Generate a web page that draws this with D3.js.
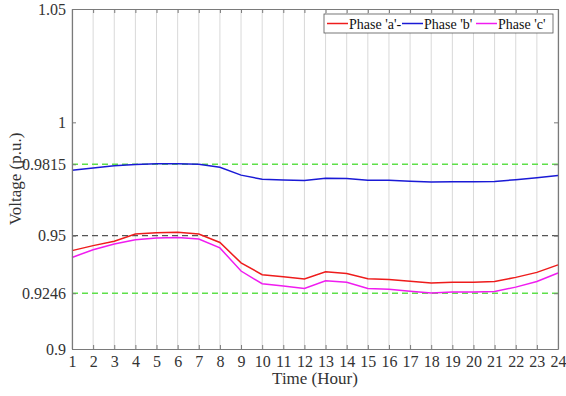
<!DOCTYPE html>
<html>
<head>
<meta charset="utf-8">
<script src="https://cdn.jsdelivr.net/npm/d3@7"></script>
<style>
  html, body { margin: 0; padding: 0; background: #fff; }
  svg { display: block; }
</style>
</head>
<body>
<svg id="chart" width="566" height="396"></svg>
<script>
// Hourly voltage profile per phase
const hours = d3.range(1, 25);
const phaseA = [0.9434, 0.9456, 0.9475, 0.9507, 0.9513, 0.9515, 0.9507, 0.9470, 0.9380,
  0.9328, 0.9319, 0.9309, 0.9341, 0.9333, 0.9310, 0.9307, 0.9299, 0.9291, 0.9295, 0.9294,
  0.9298, 0.9316, 0.9338, 0.9371];
const phaseB = [0.9789, 0.9799, 0.9808, 0.9814, 0.9817, 0.9817, 0.9815, 0.9802, 0.9767,
  0.9749, 0.9746, 0.9743, 0.9753, 0.9752, 0.9744, 0.9744, 0.9740, 0.9737, 0.9738, 0.9738,
  0.9739, 0.9747, 0.9755, 0.9765];
const phaseC = [0.9404, 0.9438, 0.9463, 0.9482, 0.9490, 0.9492, 0.9485, 0.9446, 0.9344,
  0.9288, 0.9278, 0.9267, 0.9301, 0.9294, 0.9267, 0.9264, 0.9255, 0.9247, 0.9251, 0.9251,
  0.9254, 0.9273, 0.9298, 0.9335];
const seriesNames = ["Phase 'a'-", "Phase 'b'", "Phase 'c'"];
const seriesColors = ["#ee1c1c", "#1a1ad6", "#f01cf0"];
const yTicks = [0.9, 0.9246, 0.95, 0.9815, 1, 1.05];
const limitLines = [
  { value: 0.9815, color: "#5ee04a" },
  { value: 0.95, color: "#555555" },
  { value: 0.9246, color: "#5ee04a" }
];

const FONT = "Liberation Serif";
const svg = d3.select("#chart").attr("font-family", FONT);
const margin = { left: 72, right: 8, top: 9, bottom: 47 };
const W = 566, H = 396;

const x = d3.scaleLinear().domain([1, 24]).range([margin.left, W - margin.right]);
const y = d3.scaleLinear().domain([0.9, 1.05]).range([H - margin.bottom, margin.top]);

// vertical grid
svg.append("g").selectAll("line").data(hours).join("line")
  .attr("x1", d => x(d)).attr("x2", d => x(d))
  .attr("y1", y(0.9)).attr("y2", y(1.05))
  .attr("stroke", "#d9d9d9").attr("stroke-width", 1);

// reference voltage limits
svg.append("g").selectAll("line").data(limitLines).join("line")
  .attr("x1", x(1)).attr("x2", x(24))
  .attr("y1", d => y(d.value)).attr("y2", d => y(d.value))
  .attr("stroke", d => d.color).attr("stroke-width", 1.3)
  .attr("stroke-dasharray", "6,4");

// phase curves
const line = d3.line().x((d, i) => x(hours[i])).y(d => y(d));
[phaseA, phaseB, phaseC].forEach((s, i) => {
  svg.append("path").datum(s)
    .attr("d", line)
    .attr("fill", "none")
    .attr("stroke", seriesColors[i])
    .attr("stroke-width", 1.5);
});

// axes (ticks point inward)
const axisColor = "#7a7a7a";
const xAxis = svg.append("g").attr("transform", `translate(0,${y(0.9)})`)
  .call(d3.axisBottom(x).tickValues(hours).tickFormat(d3.format("d")).tickSizeInner(-4).tickSizeOuter(0).tickPadding(7));
const xTop = svg.append("g").attr("transform", `translate(0,${y(1.05)})`)
  .call(d3.axisTop(x).tickValues(hours).tickFormat("").tickSizeInner(-4).tickSizeOuter(0));
const yAxis = svg.append("g").attr("transform", `translate(${x(1)},0)`)
  .call(d3.axisLeft(y).tickValues(yTicks).tickFormat(d => String(d)).tickSizeInner(-4).tickSizeOuter(0).tickPadding(6));
const yRight = svg.append("g").attr("transform", `translate(${x(24)},0)`)
  .call(d3.axisRight(y).tickValues(yTicks).tickFormat("").tickSizeInner(-4).tickSizeOuter(0));

[xAxis, xTop, yAxis, yRight].forEach(g => {
  g.attr("font-family", FONT).attr("font-size", 16);
  g.select(".domain").attr("stroke", axisColor).attr("stroke-width", 1.2);
  g.selectAll(".tick line").attr("stroke", axisColor);
  g.selectAll(".tick text").attr("font-family", FONT).attr("font-size", 16).attr("fill", "#333");
});

// axis titles
svg.append("text")
  .attr("x", (x(1) + x(24)) / 2).attr("y", 384)
  .attr("text-anchor", "middle").attr("font-size", 17)
  .attr("font-family", FONT).attr("fill", "#333")
  .text("Time (Hour)");
svg.append("text")
  .attr("transform", `translate(21,${y(0.975)}) rotate(-90)`)
  .attr("text-anchor", "middle").attr("font-size", 17)
  .attr("font-family", FONT).attr("fill", "#333")
  .text("Voltage (p.u.)");

// legend
const legend = svg.append("g").attr("transform", "translate(324,14)");
legend.append("rect").attr("width", 229).attr("height", 19)
  .attr("fill", "#fff").attr("stroke", "#555").attr("stroke-width", 0.8);
const legendX = [3, 78, 152];
seriesNames.forEach((name, i) => {
  const g = legend.append("g").attr("transform", `translate(${legendX[i]},0)`);
  g.append("line").attr("x1", 0).attr("x2", 21).attr("y1", 9.5).attr("y2", 9.5)
    .attr("stroke", seriesColors[i]).attr("stroke-width", 1.5);
  g.append("text").attr("x", 22).attr("y", 14.5).attr("font-size", 14)
    .attr("font-family", FONT).attr("fill", "#111").text(name);
});
</script>
</body>
</html>
